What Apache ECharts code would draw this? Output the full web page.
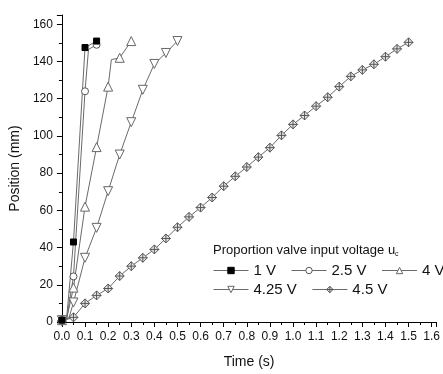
<!DOCTYPE html>
<html>
<head>
<meta charset="utf-8">
<script src="https://cdn.jsdelivr.net/npm/echarts@6/dist/echarts.min.js"></script>
<style>
  html, body { margin: 0; padding: 0; background: #fff; }
  #chart { width: 443px; height: 374px; }
</style>
</head>
<body>
<div id="chart"></div>
<script>
// time (s), position (mm)
const v1 = [[0, 1], [0.02, 1.5], [0.05, 43], [0.1, 147.5], [0.15, 151]];
const v25 = [[0, 1], [0.02, 1.5], [0.05, 24.5], [0.1, 124], [0.115, 146.5], [0.15, 149]];
const v4 = [[0, 1], [0.02, 1.5], [0.05, 18.5], [0.1, 62], [0.15, 94], [0.2, 126.5], [0.214, 141], [0.25, 142], [0.3, 151]];
const v425 = [[0, 1], [0.03, 2], [0.05, 10.5], [0.1, 34.5], [0.15, 50.6], [0.2, 70.3], [0.25, 90], [0.3, 107.4], [0.35, 124.8], [0.4, 138.7], [0.45, 144.6], [0.5, 151]];
const v45 = [[0, 0.5], [0.05, 2.5], [0.1, 10], [0.15, 14.3], [0.2, 18], [0.25, 24.7], [0.3, 30], [0.35, 34.5], [0.4, 39], [0.45, 44.9], [0.5, 50.9], [0.55, 56.5], [0.6, 61.5], [0.65, 66.9], [0.7, 73], [0.75, 78.3], [0.8, 83.3], [0.85, 88.6], [0.9, 93.7], [0.95, 100.3], [1.0, 106.2], [1.05, 111], [1.1, 116], [1.15, 120.8], [1.2, 126.5], [1.25, 132], [1.3, 135.5], [1.35, 138.5], [1.4, 142.6], [1.45, 146.8], [1.5, 150.3]];
const seriesNames = ["1 V", "2.5 V", "4 V", "4.25 V", "4.5 V"];

const chart = echarts.init(document.getElementById("chart"));

// markers only sit on the 0.05 s samples
const onGrid = (t) => Math.abs(t * 20 - Math.round(t * 20)) < 1e-6;
const sizeFn = (s) => (val) => (onGrid(val[0]) ? s : 0);

const lineColor = "#6a6a6a";
const diamondCross = "path://M0,-10 L10,0 L0,10 L-10,0 Z M0,-10 L0,10 M-10,0 L10,0";

function mkSeries(name, data, symbol, size, fill, border, rotate) {
  return {
    name,
    type: "line",
    data,
    symbol,
    symbolSize: sizeFn(size),
    symbolRotate: rotate || 0,
    showAllSymbol: true,
    lineStyle: { color: lineColor, width: 1 },
    itemStyle: { color: fill, borderColor: border, borderWidth: 1 },
    emphasis: { disabled: true },
    animation: false,
  };
}

const font = "Liberation Sans, Arial, sans-serif";

const legendBase = {
  left: 213,
  width: 300,
  orient: "horizontal",
  padding: 0,
  itemWidth: 35,
  itemHeight: 8,
  itemGap: 15,
  lineStyle: { width: 1 },
  itemStyle: { borderWidth: 1 },
  textStyle: { fontFamily: font, fontSize: 15, color: "#111" },
};

chart.setOption({
  animation: false,
  grid: { left: 61.5, top: 15, right: 0, bottom: 52 },
  title: {
    text: "Proportion valve input voltage u{sub|c}",
    left: 213,
    top: 242,
    padding: 0,
    textStyle: {
      fontFamily: font,
      fontSize: 13,
      fontWeight: "normal",
      color: "#111",
      rich: { sub: { fontFamily: font, fontSize: 7, color: "#111", padding: [9, 0, 0, 0] } },
    },
  },
  legend: [
    Object.assign({}, legendBase, { data: seriesNames.slice(0, 3), top: 263 }),
    Object.assign({}, legendBase, { data: seriesNames.slice(3), top: 282 }),
  ],
  xAxis: {
    type: "value",
    min: 0,
    max: 1.62,
    interval: 0.1,
    name: "Time (s)",
    nameLocation: "middle",
    nameGap: 33,
    nameTextStyle: { fontFamily: font, fontSize: 14, color: "#111" },
    axisLine: { lineStyle: { color: "#000", width: 1 } },
    axisTick: { inside: false, length: 5, lineStyle: { color: "#000" } },
    minorTick: { show: true, splitNumber: 2, length: 3, lineStyle: { color: "#000" } },
    splitLine: { show: false },
    axisLabel: {
      margin: 9,
      fontFamily: font,
      fontSize: 12,
      color: "#111",
      formatter: (v) => (Math.abs(v * 10 - Math.round(v * 10)) < 1e-6 ? v.toFixed(1) : ""),
    },
  },
  yAxis: {
    type: "value",
    min: 0,
    max: 165,
    interval: 20,
    name: "Position (mm)",
    nameLocation: "middle",
    nameGap: 39,
    nameTextStyle: { fontFamily: font, fontSize: 14, color: "#111" },
    axisLine: { show: true, lineStyle: { color: "#000", width: 1 } },
    axisTick: { show: true, inside: false, length: 5, lineStyle: { color: "#000" } },
    minorTick: { show: true, splitNumber: 2, length: 3, lineStyle: { color: "#000" } },
    splitLine: { show: false },
    axisLabel: {
      margin: 9,
      fontFamily: font,
      fontSize: 12,
      color: "#111",
      formatter: (v) => (v % 20 === 0 ? String(v) : ""),
    },
  },
  series: [
    mkSeries("4.5 V", v45, diamondCross, 9, "#e6e6e6", "#555"),
    mkSeries("4.25 V", v425, "triangle", 9, "#fff", "#666", 180),
    mkSeries("4 V", v4, "triangle", 9, "#fff", "#666"),
    mkSeries("2.5 V", v25, "circle", 7, "#fff", "#555"),
    mkSeries("1 V", v1, "rect", 6, "#000", "#000"),
  ],
});
</script>
</body>
</html>
